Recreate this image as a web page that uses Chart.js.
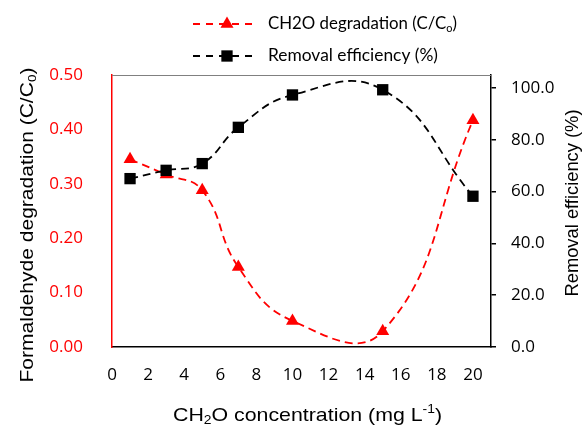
<!DOCTYPE html>
<html>
<head>
<meta charset="utf-8">
<script src="https://cdn.jsdelivr.net/npm/chart.js@4/dist/chart.umd.min.js"></script>
<style>
  html, body { margin: 0; padding: 0; background: #fff; }
  #wrap { width: 584px; height: 426px; }
</style>
</head>
<body>
<div id="wrap"><canvas id="chart-formaldehyde" width="584" height="426"></canvas></div>
<script>
// values
const concentrations = [1, 3, 5, 7, 10, 15, 20];
const degradation = [0.345, 0.317, 0.288, 0.147, 0.048, 0.029, 0.417];
const removalEfficiency = [65.0, 68.2, 70.8, 84.8, 97.3, 99.3, 58.2];
const xTicks = [0, 2, 4, 6, 8, 10, 12, 14, 16, 18, 20];
const leftTicks = [0, 0.1, 0.2, 0.3, 0.4, 0.5];
const rightTicks = [0, 20, 40, 60, 80, 100];

const legendItems = [
    { parts: [{ t: 'CH2O degradation (C/C' }, { t: 'o', mode: 'sub' }, { t: ')' }], color: '#ff0000', style: 'triangle', width: 189 },
    { parts: [{ t: 'Removal efficiency (%)' }], color: '#000000', style: 'rect', width: 170 }
];

const tickFont = { family: '"Open Sans", Lato, sans-serif', size: 17 };
const titleFamily = '"Liberation Sans", Arial, sans-serif';
const legendFamily = 'Lato, "Open Sans", sans-serif';

function toPoints(xs, ys) {
    return xs.map((x, i) => ({ x: x, y: ys[i] }));
}

function keepTicks(list) {
    return function (scale) {
        scale.ticks = list.map(v => ({ value: v }));
    };
}

// text with sub/superscript pieces, optionally stretched to a width
function drawRich(ctx, parts, size, family, align, targetWidth) {
    let total = 0;
    parts.forEach(p => {
        ctx.font = (p.mode ? size * 0.65 : size) + 'px ' + family;
        p.w = ctx.measureText(p.t).width;
        total += p.w;
    });
    const sx = targetWidth ? targetWidth / total : 1;
    ctx.save();
    if (align === 'center') ctx.translate(-total * sx / 2, 0);
    ctx.scale(sx, 1);
    let x = 0;
    parts.forEach(p => {
        ctx.font = (p.mode ? size * 0.65 : size) + 'px ' + family;
        let dy = 0;
        if (p.mode === 'sub') dy = size * 0.25;
        if (p.mode === 'sup') dy = -size * 0.35;
        ctx.fillText(p.t, x, dy);
        x += p.w;
    });
    ctx.restore();
}

const decorations = {
    id: 'decorations',
    afterDraw(chart) {
        const ctx = chart.ctx;
        const area = chart.chartArea;
        ctx.save();

        // top border of the plot
        ctx.strokeStyle = '#808080';
        ctx.lineWidth = 1;
        ctx.beginPath();
        ctx.moveTo(area.left, area.top + 0.5);
        ctx.lineTo(area.right, area.top + 0.5);
        ctx.stroke();

        ctx.fillStyle = '#000';
        ctx.textBaseline = 'middle';
        ctx.textAlign = 'left';

        // bottom title
        ctx.save();
        ctx.translate(307.5, 416);
        drawRich(ctx, [
            { t: 'CH' }, { t: '2', mode: 'sub' }, { t: 'O concentration (mg L' },
            { t: '-1', mode: 'sup' }, { t: ')' }
        ], 19, titleFamily, 'center', 269);
        ctx.restore();

        // left title
        ctx.save();
        ctx.translate(28, 225);
        ctx.rotate(-Math.PI / 2);
        drawRich(ctx, [
            { t: 'Formaldehyde degradation (C/C' }, { t: '0', mode: 'sub' }, { t: ')' }
        ], 18, titleFamily, 'center', 315);
        ctx.restore();

        // right title
        ctx.save();
        ctx.translate(573, 203);
        ctx.rotate(-Math.PI / 2);
        drawRich(ctx, [{ t: 'Removal efficiency (%)' }], 18, titleFamily, 'center', 187);
        ctx.restore();

        // legend
        const rows = [24, 56];
        legendItems.forEach((item, i) => {
            const y = rows[i];
            ctx.strokeStyle = item.color;
            ctx.lineWidth = 1.8;
            ctx.setLineDash([7, 6]);
            ctx.beginPath();
            ctx.moveTo(193, y);
            ctx.lineTo(255, y);
            ctx.stroke();
            ctx.setLineDash([]);
            ctx.fillStyle = item.color;
            Chart.helpers.drawPoint(ctx, {
                pointStyle: item.style,
                radius: item.style === 'rect' ? 8 : 7.5,
                rotation: 0,
                borderWidth: 0
            }, 227, y);
            ctx.fillStyle = '#000';
            ctx.save();
            ctx.translate(268, y);
            drawRich(ctx, item.parts, 16.5, legendFamily, 'left', item.width);
            ctx.restore();
        });
        ctx.restore();
    }
};

const chartElement = document.getElementById('chart-formaldehyde');
const chart = new Chart(chartElement, {
    type: 'line',
    data: {
        datasets: [
            {
                label: 'Removal efficiency (%)',
                data: toPoints(concentrations, removalEfficiency),
                yAxisID: 'yRight',
                borderColor: '#000',
                backgroundColor: '#000',
                borderWidth: 1.8,
                borderDash: [8, 5],
                pointStyle: 'rect',
                pointRadius: 8,
                pointBorderWidth: 0,
                tension: 0.45,
                order: 0
            },
            {
                label: 'CH2O degradation (C/Co)',
                data: toPoints(concentrations, degradation),
                yAxisID: 'yLeft',
                borderColor: '#ff0000',
                backgroundColor: '#ff0000',
                borderWidth: 1.8,
                borderDash: [8, 5],
                pointStyle: 'triangle',
                pointRadius: 7.5,
                pointBorderWidth: 0,
                tension: 0.45,
                order: 1
            }
        ]
    },
    options: {
        responsive: false,
        animation: false,
        layout: { padding: { top: 75, right: 0, bottom: 0, left: 0 } },
        elements: { line: { capBezierPoints: false } },
        plugins: {
            legend: { display: false },
            tooltip: { enabled: false }
        },
        scales: {
            x: {
                type: 'linear',
                min: 0,
                max: 21,
                afterBuildTicks: keepTicks(xTicks),
                afterFit(scale) { scale.height = 79; },
                grid: { display: false },
                border: { display: true, color: '#000', width: 1.5 },
                ticks: { color: '#000', font: tickFont, padding: 10 }
            },
            yLeft: {
                type: 'linear',
                position: 'left',
                min: 0,
                max: 0.5,
                afterBuildTicks: keepTicks(leftTicks),
                afterFit(scale) { scale.width = 112; },
                grid: { display: false },
                border: { display: true, color: '#ff0000', width: 1.5 },
                ticks: {
                    color: '#ff0000',
                    font: tickFont,
                    padding: 21,
                    callback: v => v.toFixed(2)
                }
            },
            yRight: {
                type: 'linear',
                position: 'right',
                min: 0,
                max: 105,
                afterBuildTicks: keepTicks(rightTicks),
                afterFit(scale) { scale.width = 93; },
                grid: {
                    drawOnChartArea: false,
                    drawTicks: true,
                    tickLength: 5,
                    color: '#000',
                    lineWidth: 1.5
                },
                border: { display: true, color: '#000', width: 1.5 },
                ticks: {
                    color: '#000',
                    font: tickFont,
                    padding: 15,
                    callback: v => v.toFixed(1)
                }
            }
        }
    },
    plugins: [decorations]
});
</script>
</body>
</html>
